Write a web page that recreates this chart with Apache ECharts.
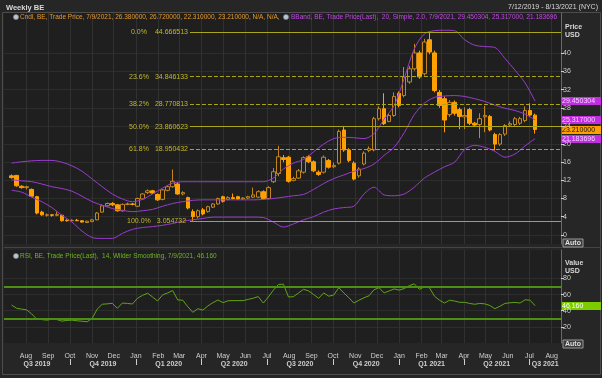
<!DOCTYPE html>
<html>
<head>
<meta charset="utf-8">
<script src="https://cdn.jsdelivr.net/npm/echarts@6/dist/echarts.min.js"></script>
<style>
html, body { margin: 0; padding: 0; background: #262626; }
#chart { width: 602px; height: 378px; }
</style>
</head>
<body>
<div id="chart"></div>
<script>
// weekly candles, first bar week ending 7/12/2019 -> [open, close, low, high]
var ohlc = [
  [13.0, 12.6, 12.4, 13.3], [13.1, 10.8, 10.6, 13.2], [10.7, 10.4, 10.2, 10.9], [10.4, 10.6, 10.0, 10.8],
  [10.0, 8.5, 8.3, 10.2], [8.4, 4.8, 4.5, 8.6], [5.0, 4.4, 4.2, 5.3], [4.3, 4.4, 4.0, 4.7],
  [4.4, 4.3, 4.0, 4.6], [4.3, 4.5, 4.1, 5.1], [4.3, 3.1, 2.9, 4.4], [3.2, 3.1, 2.9, 3.4],
  [3.1, 3.2, 3.0, 3.4], [3.2, 3.1, 3.0, 3.5], [3.1, 2.8, 2.7, 3.2], [2.7, 3.0, 2.6, 3.1],
  [2.9, 3.3, 2.8, 3.5], [3.3, 4.8, 3.2, 5.0], [5.0, 6.4, 4.9, 6.7], [6.4, 6.9, 6.2, 7.1],
  [6.9, 6.6, 6.3, 7.2], [6.6, 5.3, 5.1, 6.8], [5.3, 6.7, 5.1, 6.9], [6.7, 6.8, 6.5, 7.1],
  [6.8, 6.7, 6.5, 7.0], [6.3, 8.0, 6.1, 8.2], [7.9, 9.0, 7.8, 9.2], [9.3, 9.7, 9.0, 10.0],
  [9.7, 9.2, 9.0, 9.9], [8.9, 7.7, 7.5, 9.1], [7.8, 9.9, 7.6, 10.1], [9.8, 10.6, 9.6, 10.9],
  [10.6, 11.8, 10.4, 14.4], [11.2, 9.0, 8.8, 11.6], [9.0, 9.3, 8.7, 9.6], [8.2, 5.9, 5.6, 8.4],
  [5.1, 4.0, 3.05, 5.6], [4.0, 5.3, 3.6, 5.6], [5.5, 4.6, 4.3, 5.9], [5.1, 6.2, 4.9, 6.4],
  [6.1, 6.8, 5.9, 7.0], [6.8, 8.0, 6.6, 8.2], [8.4, 7.4, 7.1, 8.6], [7.8, 8.2, 7.6, 8.5],
  [8.2, 8.0, 7.8, 9.1], [8.4, 7.9, 7.7, 8.6], [7.9, 8.1, 7.7, 8.3], [8.1, 8.4, 7.9, 8.6],
  [8.3, 8.8, 8.1, 10.4], [8.3, 9.5, 8.1, 9.8], [9.5, 8.0, 7.8, 9.8], [8.0, 10.4, 7.8, 10.7],
  [11.7, 13.9, 11.4, 14.7], [13.5, 17.2, 12.9, 19.6], [17.0, 16.6, 16.0, 17.6], [17.1, 11.8, 11.5, 17.4],
  [12.0, 12.4, 11.8, 12.8], [12.5, 14.1, 12.3, 14.5], [13.8, 17.0, 13.5, 17.3], [17.2, 16.1, 15.8, 17.6],
  [16.1, 14.1, 13.8, 16.4], [13.8, 13.3, 13.0, 14.2], [13.8, 17.1, 13.5, 17.5], [16.4, 14.9, 14.6, 16.7],
  [15.0, 15.3, 14.7, 15.9], [15.8, 22.8, 15.5, 23.2], [23.1, 18.7, 18.3, 24.0], [18.7, 16.4, 16.0, 19.1],
  [15.8, 12.3, 12.0, 16.2], [13.0, 14.5, 12.6, 14.9], [15.6, 18.0, 15.3, 18.4], [18.6, 19.0, 18.2, 19.5],
  [18.7, 25.6, 18.4, 26.0], [25.6, 27.8, 25.2, 28.3], [27.8, 24.5, 24.2, 31.2], [25.0, 26.3, 24.8, 26.8],
  [26.3, 30.5, 26.0, 31.4], [31.2, 28.5, 28.1, 31.6], [30.7, 34.8, 30.3, 37.0], [33.7, 36.6, 33.3, 37.2],
  [36.6, 40.1, 36.2, 42.1], [40.1, 34.8, 34.4, 40.6], [35.5, 42.5, 35.1, 43.2], [43.0, 40.3, 39.8, 44.67],
  [40.1, 31.8, 31.4, 40.6], [31.4, 28.5, 28.0, 31.9], [30.0, 25.3, 22.6, 30.5], [26.5, 29.2, 26.0, 29.7],
  [29.2, 26.8, 26.3, 29.6], [27.6, 26.1, 23.3, 28.0], [26.0, 26.3, 23.3, 28.1], [27.6, 24.6, 24.2, 28.0],
  [24.6, 24.2, 23.8, 24.9], [24.3, 25.6, 21.3, 26.8], [26.0, 26.3, 22.6, 28.4], [26.1, 23.1, 22.8, 26.4],
  [22.1, 20.0, 18.6, 22.5], [20.0, 22.1, 19.6, 22.4], [22.2, 24.1, 21.8, 24.4], [24.2, 24.5, 23.8, 25.0],
  [24.3, 25.6, 24.0, 26.0], [24.6, 25.6, 24.2, 26.0], [25.2, 27.4, 24.8, 28.3], [27.4, 26.4, 26.0, 29.0],
  [26.38, 23.21, 22.31, 26.72]
];

// Bollinger band (20, 2.0), read every 2nd week starting at the first bar
var bbStep = 2;
var bbUpper = [15.8, 16.1, 16.3, 16.4, 16.4, 16.0, 15.2, 14.0, 12.3, 10.6, 9.0, 7.9, 7.3, 7.8,
  9.0, 10.3, 11.4, 11.7, 11.7, 11.7, 11.7, 11.7, 11.7, 11.7, 11.7, 11.7, 12.5, 14.5,
  15.8, 16.6, 18.3, 20.0, 21.2, 21.5, 21.4, 21.2, 22.3, 25.5, 28.5, 34.5, 41.0, 44.3,
  45.0, 45.1, 45.0, 43.0, 41.8, 41.5, 41.3, 38.9, 36.3, 33.5, 29.45];
var bbMiddle = [12.1, 11.9, 11.7, 11.2, 10.6, 10.2, 9.6, 8.5, 7.3, 6.5, 5.8, 5.4, 5.1, 5.3,
  5.6, 6.3, 6.9, 7.3, 7.6, 7.7, 7.7, 7.7, 7.7, 7.7, 7.7, 7.8, 8.0, 8.3,
  8.6, 8.9, 10.0, 11.3, 12.4, 13.2, 14.0, 14.6, 15.6, 17.5, 19.3, 22.5, 26.5, 29.0,
  30.3, 30.6, 30.7, 30.5, 30.0, 29.4, 28.6, 27.9, 27.4, 26.6, 25.317];
var bbLower = [9.8, 9.4, 8.3, 7.3, 6.0, 4.3, 2.8, 0.8, -0.6, -0.8, -0.8, 0.3, 1.2, 1.6,
  1.8, 2.1, 2.5, 3.0, 3.3, 3.6, 3.9, 3.9, 3.9, 3.9, 3.9, 3.8, 2.8, 1.7,
  2.4, 3.3, 4.0, 5.0, 5.7, 6.0, 6.3, 9.0, 10.5, 8.8, 8.6, 9.0, 10.5, 12.5,
  13.8, 15.0, 16.0, 18.8, 19.7, 19.3, 18.4, 17.1, 17.8, 19.6, 21.183696];

// RSI 14, Wilder smoothing, one value per week
var rsi = [
  47, 43, 42, 41, 36, 29.5, 29, 28.3, 29.5, 29, 27.1, 28, 28.3, 27.5, 27, 26.3, 30.4, 42, 48, 48.5,
  49.2, 43, 49.5, 49, 48.3, 55.4, 59, 61.7, 57, 52.1, 59.6, 62, 65, 53.3, 53, 45, 38, 42.5, 40.8, 46,
  50, 53.3, 50, 52.3, 52.5, 52.5, 52.5, 54, 55.5, 57.5, 49.5, 57, 65.5, 72.5, 72.9, 57, 57.4, 62, 66.5, 64.5,
  60, 55.4, 62, 58, 59.4, 68.5, 62, 56, 49.5, 53, 56, 58.5, 66, 68.5, 62, 64.5, 67, 65.5, 67.5, 71,
  73.3, 66.5, 69.5, 68.5, 58, 53, 49.5, 53, 52, 50.4, 50.4, 49, 48, 49, 48.5, 46.5, 42.5, 45.5, 49, 49.8,
  50.3, 49.5, 53.5, 53, 46.16
];

// Fibonacci retracement from the March 2020 low to the February 2021 high
var fibPct = [0, 23.6, 38.2, 50, 61.8, 100];
var fibVal = [44.666513, 34.846133, 28.770813, 23.860623, 18.950432, 3.054732];
var fibDash = ['solid', 'dashed', 'dashed', 'solid', 'dashed', 'solid'];
var fibStart = +new Date(2020, 2, 16);

var priceTicks = [0, 4, 8, 12, 16, 20, 24, 28, 32, 36, 40];
var rsiTicks = [20, 40, 60, 80];
var rsiBands = [70, 30];
var monthNames = ['Jan', 'Feb', 'Mar', 'Apr', 'May', 'Jun', 'Jul', 'Aug', 'Sep', 'Oct', 'Nov', 'Dec'];

var lastCndl = 'Cndl, BE, Trade Price, 7/9/2021, 26.380000, 26.720000, 22.310000, 23.210000, N/A, N/A, ';
var lastBand = 'BBand, BE, Trade Price(Last),  20, Simple, 2.0, 7/9/2021, 29.450304, 25.317000, 21.183696';
var lastRsi = 'RSI, BE, Trade Price(Last),  14, Wilder Smoothing, 7/9/2021, 46.160';

var FONT = 'Liberation Sans, Arial, sans-serif';
var CANDLE_UP = '#c3861f';
var CANDLE_DOWN = '#ffa000';
var BAND = '#9a3ccf';
var FIB = '#aba51c';
var RSI_LINE = '#5fa514';
var TEXT = '#cfcfcf';

var weeks = ohlc.map(function (d, i) { return +new Date(2019, 6, 12 + 7 * i); });
var xMin = +new Date(2019, 6, 1, 10);
var xMax = +new Date(2021, 7, 14);

var monthTicks = [];
for (var m = 0; m < 25; m++) monthTicks.push(+new Date(2019, 7 + m, 1));
var quarterStarts = [];
var quarterMids = [];
for (var q = 0; q < 9; q++) {
  var qs = +new Date(2019, 6 + 3 * q, 1);
  var qe = +new Date(2019, 9 + 3 * q, 1);
  if (q > 0) quarterStarts.push(qs);
  quarterMids.push((Math.max(qs, xMin) + Math.min(qe, xMax)) / 2);
}

function bandData(arr) {
  return arr.map(function (v, i) { return [weeks[i * bbStep], v]; });
}

var fibLines = fibVal.map(function (v, i) {
  return [{
    coord: [fibStart, v],
    lineStyle: { type: fibDash[i] },
    label: {
      formatter: '{p|' + fibPct[i].toFixed(1) + '%}{v|' + v.toFixed(6) + '}'
    }
  }, { coord: [xMax, v] }];
});

function timeAxis(grid, extra) {
  var a = {
    type: 'value', gridIndex: grid, min: xMin, max: xMax, position: 'bottom',
    axisLine: { show: false },
    axisTick: { show: false, customValues: monthTicks },
    axisLabel: { show: false, customValues: monthTicks },
    splitLine: { show: true, lineStyle: { color: '#313131' } }
  };
  for (var k in extra) a[k] = extra[k];
  return a;
}

var chart = echarts.init(document.getElementById('chart'));

var option = {
  backgroundColor: '#262626',
  animation: false,
  textStyle: { fontFamily: FONT },
  grid: [
    { left: 4, right: 41, top: 13, height: 231, backgroundColor: '#1f1f1f', show: true, borderWidth: 0 },
    { left: 4, right: 41, top: 250, height: 93, backgroundColor: '#1f1f1f', show: true, borderWidth: 0 }
  ],
  xAxis: [
    timeAxis(0, {}),
    timeAxis(1, {
      axisLabel: {
        customValues: monthTicks, color: TEXT, fontSize: 7, margin: 10,
        formatter: function (v) { return monthNames[new Date(v).getMonth()]; }
      }
    }),
    timeAxis(1, {
      offset: 16,
      axisTick: { show: true, customValues: quarterStarts, length: 6, lineStyle: { color: TEXT } },
      axisLabel: {
        customValues: quarterMids, color: TEXT, fontSize: 7, fontWeight: 'bold', margin: 2,
        formatter: function (v) {
          var d = new Date(v);
          return 'Q' + (Math.floor(d.getMonth() / 3) + 1) + ' ' + d.getFullYear();
        }
      },
      splitLine: { show: false }
    })
  ],
  yAxis: [
    {
      type: 'value', gridIndex: 0, position: 'right', min: -2.03, max: 48.9,
      axisLine: { show: true, lineStyle: { color: '#6a6a6a' } },
      axisTick: { show: true, customValues: priceTicks, length: 3, lineStyle: { color: TEXT } },
      axisLabel: { customValues: priceTicks, color: TEXT, fontSize: 7, margin: 2 },
      splitLine: { show: true, lineStyle: { color: '#2d2d2d' } }
    },
    {
      type: 'value', gridIndex: 1, position: 'right', min: 0, max: 115.2,
      axisLine: { show: true, lineStyle: { color: '#6a6a6a' } },
      axisTick: { show: true, customValues: rsiTicks, length: 3, lineStyle: { color: TEXT } },
      axisLabel: { customValues: rsiTicks, color: TEXT, fontSize: 7, margin: 2 },
      splitLine: { show: true, lineStyle: { color: '#2d2d2d' } }
    }
  ],
  series: [
    {
      name: 'Cndl', type: 'candlestick', xAxisIndex: 0, yAxisIndex: 0,
      data: weeks.map(function (t, i) { return [t].concat(ohlc[i]); }),
      encode: { x: 0, y: [1, 2, 3, 4] },
      barWidth: 4,
      itemStyle: {
        color: 'rgba(0,0,0,0)', color0: CANDLE_DOWN,
        borderColor: CANDLE_UP, borderColor0: CANDLE_DOWN, borderWidth: 1
      },
      markLine: {
        silent: true, symbol: 'none', animation: false,
        lineStyle: { color: FIB, width: 1 },
        label: {
          position: 'start', distance: 2, color: '#c2b92a', fontSize: 7,
          rich: {
            p: { width: 24, align: 'right', color: '#c2b92a', fontSize: 7 },
            v: { width: 33, align: 'left', color: '#c2b92a', fontSize: 7, padding: [0, 0, 0, 4] }
          }
        },
        data: fibLines
      }
    },
    {
      name: 'BBand upper', type: 'line', xAxisIndex: 0, yAxisIndex: 0, data: bandData(bbUpper),
      symbol: 'none', smooth: 0.3, lineStyle: { color: BAND, width: 1 }
    },
    {
      name: 'BBand middle', type: 'line', xAxisIndex: 0, yAxisIndex: 0, data: bandData(bbMiddle),
      symbol: 'none', smooth: 0.3, lineStyle: { color: BAND, width: 1 }
    },
    {
      name: 'BBand lower', type: 'line', xAxisIndex: 0, yAxisIndex: 0, data: bandData(bbLower),
      symbol: 'none', smooth: 0.3, lineStyle: { color: BAND, width: 1 }
    },
    {
      name: 'RSI', type: 'line', xAxisIndex: 1, yAxisIndex: 1,
      data: weeks.map(function (t, i) { return [t, rsi[i]]; }),
      symbol: 'none', lineStyle: { color: RSI_LINE, width: 1 },
      markLine: {
        silent: true, symbol: 'none', animation: false,
        label: { show: false },
        lineStyle: { color: '#4c8f12', width: 2, type: 'solid' },
        data: rsiBands.map(function (v) { return { yAxis: v }; })
      }
    }
  ]
};

chart.setOption(option);

// header, panel captions and last-value tags
function tag(value, axisIndex, text, bg, fg) {
  var y = chart.convertToPixel({ yAxisIndex: axisIndex }, value);
  return {
    type: 'group', x: 561, y: Math.round(y) - 4,
    children: [
      { type: 'rect', shape: { x: 0, y: 0, width: 40, height: 8 }, style: { fill: bg } },
      { type: 'text', x: 1, y: 4, style: { text: text, fill: fg, font: '7px ' + FONT, verticalAlign: 'middle' } }
    ]
  };
}

function icon(x, y) {
  return { type: 'circle', shape: { cx: x, cy: y, r: 2.6 }, style: { fill: '#b9c3cf', stroke: '#6d7d8f', lineWidth: 0.6 } };
}

function autoBtn(y) {
  return {
    type: 'group', x: 563, y: y,
    children: [
      { type: 'rect', shape: { x: 0, y: 0, width: 20, height: 8 }, style: { fill: '#3a3a3a', stroke: '#9a9a9a', lineWidth: 1 } },
      { type: 'text', x: 10, y: 4, style: { text: 'Auto', fill: '#e0e0e0', font: 'bold 7px ' + FONT, align: 'center', verticalAlign: 'middle' } }
    ]
  };
}

chart.setOption({
  graphic: [
    { type: 'rect', shape: { x: 2.5, y: 12.5, width: 598, height: 362 }, style: { fill: 'none', stroke: '#4d4d4d', lineWidth: 1 }, z: -1 },
    { type: 'line', shape: { x1: 4, y1: 247.5, x2: 601, y2: 247.5 }, style: { stroke: '#444', lineWidth: 1 } },
    { type: 'text', x: 6, y: 4, style: { text: 'Weekly BE', fill: '#d8d8d8', font: 'bold 7.5px ' + FONT } },
    { type: 'text', x: 598, y: 4, style: { text: '7/12/2019 - 8/13/2021 (NYC)', fill: '#d8d8d8', font: '7px ' + FONT, align: 'right' } },
    icon(16, 17),
    { type: 'text', x: 20, y: 13.5, style: { text: lastCndl, fill: '#e89a2c', font: '6.5px ' + FONT } },
    icon(286, 17),
    { type: 'text', x: 291, y: 13.5, style: { text: lastBand, fill: '#c447e8', font: '6.5px ' + FONT } },
    icon(16, 256),
    { type: 'text', x: 20, y: 252.5, style: { text: lastRsi, fill: '#6cb81a', font: '6.5px ' + FONT } },
    { type: 'text', x: 565, y: 23, style: { text: 'Price\nUSD', fill: '#d8d8d8', font: 'bold 7px ' + FONT, lineHeight: 8 } },
    { type: 'text', x: 565, y: 259, style: { text: 'Value\nUSD', fill: '#d8d8d8', font: 'bold 7px ' + FONT, lineHeight: 8 } },
    autoBtn(239),
    autoBtn(340),
    tag(29.450304, 0, '29.450304', '#c02ee0', '#f3d0ff'),
    tag(25.317, 0, '25.317000', '#c02ee0', '#f3d0ff'),
    tag(23.21, 0, '23.210000', '#ffa000', '#111111'),
    tag(21.183696, 0, '21.183696', '#c02ee0', '#f3d0ff'),
    tag(46.16, 1, '46.160', '#7ccc00', '#ffffff')
  ]
});
</script>
</body>
</html>
